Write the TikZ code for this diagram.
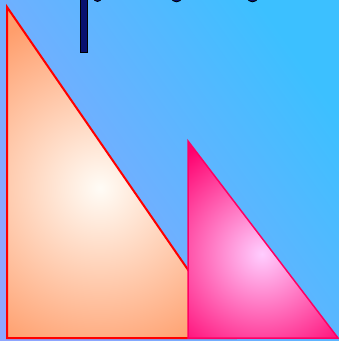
\documentclass[tikz,border=0pt]{standalone}
\begin{document}
\begin{tikzpicture}[x=1pt,y=-1pt]
\definecolor{bgA}{RGB}{142,166,255}
\definecolor{bgB}{RGB}{60,192,255}
\definecolor{orIn}{RGB}{255,252,246}
\definecolor{orOut}{RGB}{255,158,108}
\definecolor{pkIn}{RGB}{255,205,255}
\definecolor{pkOut}{RGB}{255,0,110}
\definecolor{pkLine}{RGB}{255,0,100}
\definecolor{navyC}{RGB}{8,16,110}
\tikzset{glyph/.style={fill=navyC,draw=black,line width=0.8pt}}
\useasboundingbox (0,0) rectangle (339,341);
\shade[left color=bgA,right color=bgB,shading angle=125] (0,0) rectangle (339,341);
% glyph fragments of clipped text
\begin{scope}
\clip (0,0) rectangle (339,341);
\path[glyph] (80.5,-5) rectangle (87.5,52);
\path[glyph] (93,-3) .. controls (94,3) and (101,3) .. (102,-3) -- cycle;
\path[glyph] (171,-3) .. controls (172,3.5) and (181,3.5) .. (182,-3) -- cycle;
\path[glyph] (247,-3) .. controls (248,3.5) and (257,3.5) .. (258,-3) -- cycle;
\end{scope}
% orange triangle
\coordinate (a1) at (7,7);
\coordinate (a2) at (7,338);
\coordinate (a3) at (235,338);
\begin{scope}
\clip (a1) -- (a2) -- (a3) -- cycle;
\fill[orOut] (a1) -- (a2) -- (a3) -- cycle;
\shade[inner color=orIn,outer color=orOut] (100,188) circle (180);
\end{scope}
\draw[red,line width=2pt,line join=miter] (a1) -- (a2) -- (a3) -- cycle;
% pink triangle
\coordinate (b1) at (188,141);
\coordinate (b2) at (188,338);
\coordinate (b3) at (338,338);
\begin{scope}
\clip (b1) -- (b2) -- (b3) -- cycle;
\fill[pkOut] (b1) -- (b2) -- (b3) -- cycle;
\shade[inner color=pkIn,outer color=pkOut] (262,254) circle (125);
\end{scope}
\draw[pkLine,line width=1.5pt] (b1) -- (b2) -- (b3) -- cycle;
\end{tikzpicture}
\end{document}
